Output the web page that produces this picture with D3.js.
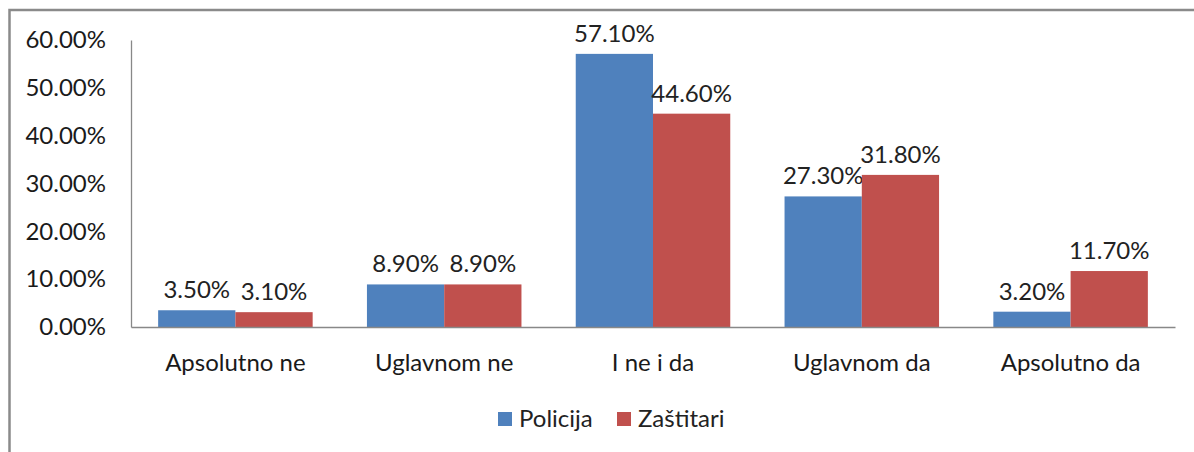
<!DOCTYPE html>
<html><head><meta charset="utf-8">
<script src="https://cdn.jsdelivr.net/npm/d3@7"></script>
<style>body{margin:0;background:#fff}svg{display:block}text{font-family:Lato,"Open Sans",sans-serif;fill:#1a1a1a}</style>
</head><body><svg id="c" width="1194" height="452"></svg>
<script>
const categories = ["Apsolutno ne","Uglavnom ne","I ne i da","Uglavnom da","Apsolutno da"];
const seriesNames = ["Policija","Zaštitari"];
const policija = [3.5, 8.9, 57.1, 27.3, 3.2];
const zastitari = [3.1, 8.9, 44.6, 31.8, 11.7];
const yTicks = [0,10,20,30,40,50,60];
const colors = ["#4F81BD","#C0504D"];

const svg = d3.select("#c");
// frame
svg.append("rect").attr("x",9.5).attr("y",10).attr("width",1200).attr("height",460)
  .attr("fill","none").attr("stroke","#8a8a8a").attr("stroke-width",2.5);

const x0 = 131, x1 = 1175, yb = 327, yt = 40;
const x = d3.scaleBand().domain(categories).range([x0,x1]).paddingInner(0.26).paddingOuter(0.13);
const xs = d3.scaleBand().domain(seriesNames).range([0,x.bandwidth()]);
const y = d3.scaleLinear().domain([0,60]).range([yb,yt]);

const fs = 24;
const tc = "#222";
// y axis
const ya = svg.append("g").attr("transform",`translate(${x0},0)`)
  .call(d3.axisLeft(y).tickValues(yTicks).tickSize(0).tickPadding(25).tickFormat(d=>d.toFixed(2)+"%"));
ya.select(".domain").attr("stroke","#888").attr("stroke-width",1.3);
ya.selectAll("text").style("font-size",fs+"px").style("font-family","Lato").attr("fill",tc);

// bars
const data = categories.map((c,i)=>({c, vals:[policija[i],zastitari[i]]}));
const g = svg.append("g");
data.forEach(d=>{
  d.vals.forEach((v,j)=>{
    const bx = x(d.c)+xs(seriesNames[j]);
    g.append("rect").attr("x",bx).attr("y",y(v)).attr("width",xs.bandwidth()).attr("height",yb-y(v)).attr("fill",colors[j]);
    g.append("text").attr("x",bx+xs.bandwidth()/2).attr("y",y(v)-12).attr("text-anchor","middle")
      .style("font-size",fs+"px").style("fill",tc).text(v.toFixed(2)+"%");
  });
});

// x axis
const xa = svg.append("g").attr("transform",`translate(0,${yb})`)
  .call(d3.axisBottom(x).tickSize(0).tickPadding(27));
xa.select(".domain").attr("stroke","#888").attr("stroke-width",1.3);
xa.selectAll("text").style("font-size",fs+"px").style("font-family","Lato").attr("fill",tc);

// legend
const leg = svg.append("g");
const lx = [498, 617];
seriesNames.forEach((s,j)=>{
  leg.append("rect").attr("x",lx[j]).attr("y",412).attr("width",14).attr("height",14).attr("fill",colors[j]);
  leg.append("text").attr("x",lx[j]+21).attr("y",427).style("font-size",fs+"px").style("fill",tc).text(s);
});
</script></body></html>
